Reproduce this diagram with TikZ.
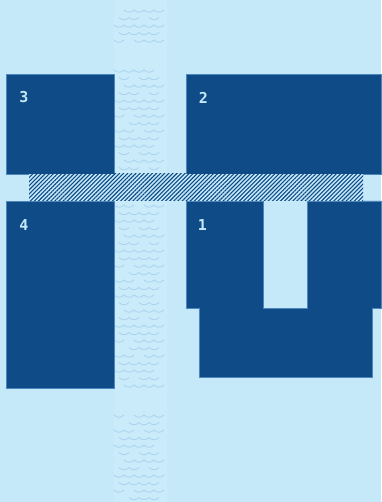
\documentclass[tikz,border=0pt]{standalone}
\usepackage{fontspec}
\usepackage{tikz}
\usetikzlibrary{patterns.meta}
\newfontfamily\labelfont{DejaVu Sans Mono}
\definecolor{sky}{HTML}{C6E9F9}
\definecolor{river}{HTML}{CAEBFA}
\definecolor{wave}{HTML}{A9D3EE}
\definecolor{block}{HTML}{0F4C87}
\definecolor{edge}{HTML}{4D86BC}
\tikzset{
  house/.style={fill=block, draw=edge, line width=0.6pt},
  tag/.style={font=\labelfont\bfseries\fontsize{15}{15}\selectfont, text=sky, inner sep=0pt},
  ripple/.style={wave, line width=0.8pt, line cap=round}
}
\begin{document}
\begin{tikzpicture}[x=1pt, y=-1pt]
  \useasboundingbox[fill=sky] (0,0) rectangle (381,502);
  \fill[river] (114,0) rectangle (167,502);
  \foreach \r in {0,...,65}{
    \pgfmathsetmacro{\ry}{10+\r*7.5}
    \pgfmathtruncatemacro{\gap}{(\ry>45 && \ry<63) || (\ry>391 && \ry<408) ? 1 : 0}
    \ifnum\gap=0
      \foreach \k in {0,...,4}{
        \pgfmathsetmacro{\rx}{114+mod(\r,2)*5+\k*10}
        \pgfmathtruncatemacro{\keep}{mod(\r*7+\k*3+\r*\k,5)==0 ? 0 : 1}
        \ifnum\keep=1
          \pgfmathtruncatemacro{\fits}{\rx+10<167.5 ? 1 : 0}
          \ifnum\fits=1
            \draw[ripple] (\rx,\ry) .. controls (\rx+3,\ry+3) and (\rx+7,\ry+3) .. (\rx+10,\ry);
          \fi
        \fi}
    \fi}
  \draw[house] (6,74) rectangle (114,174);
  \draw[house] (186,74) rectangle (381,174);
  \draw[house] (6,201) rectangle (114,388);
  \draw[house] (186,201) -- (263,201) -- (263,308) -- (307,308) -- (307,201) -- (381,201)
    -- (381,308) -- (372,308) -- (372,377) -- (199,377) -- (199,308) -- (186,308) -- cycle;
  \fill[sky] (29,174) rectangle (363,201);
  \fill[pattern={Lines[angle=45, distance=2.9pt, line width=1.1pt]}, pattern color=block]
    (29,174) rectangle (363,201);
  \node[tag] (t3) at (24,97.5) {3};
  \node[tag] (t2) at (203.5,97.5) {2};
  \node[tag] (t4) at (24,225.5) {4};
  \node[tag] (t1) at (202.5,225.5) {1};
\end{tikzpicture}
\end{document}
